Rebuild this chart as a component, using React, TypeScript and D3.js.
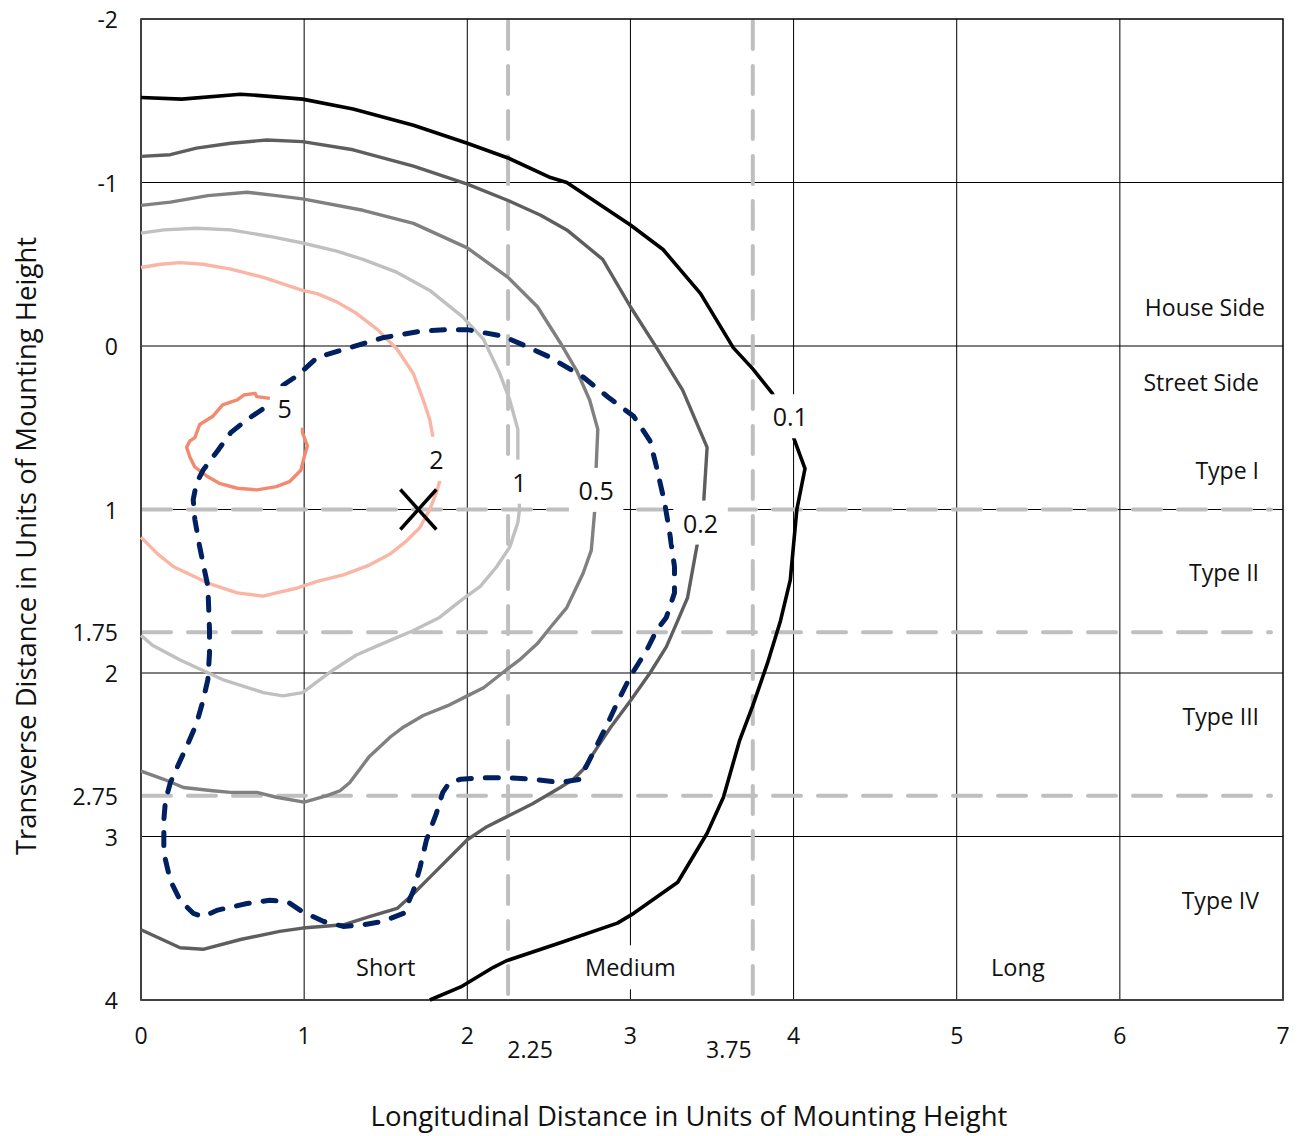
import React from 'react';
import * as d3 from 'd3';

// iso-footcandle contours, [longitudinal, transverse] in mounting heights
const contour01: [number, number][] = [
  [0, -1.52], [0.25, -1.51], [0.61, -1.54], [0.75, -1.53], [0.99, -1.51], [1.3, -1.45], [1.67, -1.35],
  [2.0, -1.24], [2.25, -1.15], [2.51, -1.03], [2.61, -1.0], [3.0, -0.74], [3.2, -0.59], [3.43, -0.32],
  [3.63, 0.01], [3.75, 0.14], [3.87, 0.29], [4.0, 0.56], [4.07, 0.75], [4.02, 1.0], [3.98, 1.43],
  [3.92, 1.68], [3.84, 1.94], [3.75, 2.2], [3.67, 2.41], [3.57, 2.76], [3.47, 2.98], [3.29, 3.28],
  [3.02, 3.47], [2.92, 3.53], [2.57, 3.65], [2.24, 3.76], [2.16, 3.8], [1.96, 3.92], [1.77, 4.0],
];
const contour02: [number, number][] = [
  [0, -1.16], [0.18, -1.17], [0.34, -1.21], [0.55, -1.24], [0.77, -1.26], [0.99, -1.25], [1.3, -1.2],
  [1.67, -1.1], [2.0, -0.99], [2.25, -0.89], [2.45, -0.8], [2.61, -0.71], [2.83, -0.53], [3.0, -0.24],
  [3.16, 0.01], [3.32, 0.27], [3.47, 0.62], [3.45, 0.94], [3.41, 1.21], [3.35, 1.54], [3.29, 1.68],
  [3.22, 1.84], [3.12, 2.0], [3.0, 2.17], [2.88, 2.33], [2.8, 2.45], [2.71, 2.59], [2.65, 2.65],
  [2.57, 2.7], [2.4, 2.8], [2.24, 2.88], [2.12, 2.94], [2.0, 3.02], [1.89, 3.13], [1.77, 3.25],
  [1.67, 3.35], [1.57, 3.44], [1.4, 3.49], [1.24, 3.54], [0.99, 3.56], [0.85, 3.58], [0.61, 3.63],
  [0.38, 3.69], [0.24, 3.68], [0, 3.57],
];
const contour05: [number, number][] = [
  [0, -0.86], [0.18, -0.88], [0.41, -0.92], [0.65, -0.94], [0.83, -0.92], [0.99, -0.9], [1.36, -0.83],
  [1.67, -0.75], [2.0, -0.6], [2.25, -0.42], [2.43, -0.24], [2.57, -0.02], [2.67, 0.15], [2.75, 0.33],
  [2.8, 0.51], [2.79, 0.74], [2.78, 1.02], [2.76, 1.25], [2.71, 1.39], [2.61, 1.6], [2.51, 1.72],
  [2.43, 1.82], [2.32, 1.92], [2.24, 1.98], [2.1, 2.09], [2.0, 2.14], [1.88, 2.2], [1.73, 2.26],
  [1.61, 2.33], [1.53, 2.39], [1.4, 2.51], [1.28, 2.67], [1.22, 2.72], [1.14, 2.75], [1.0, 2.79],
  [0.83, 2.76], [0.71, 2.73], [0.55, 2.73], [0.44, 2.72], [0.26, 2.7], [0.14, 2.65], [0, 2.6],
];
const contour1: [number, number][] = [
  [0, -0.69], [0.14, -0.71], [0.34, -0.72], [0.55, -0.71], [0.79, -0.67], [0.99, -0.63], [1.2, -0.58],
  [1.36, -0.53], [1.57, -0.45], [1.77, -0.34], [1.97, -0.18], [2.1, -0.04], [2.2, 0.17], [2.26, 0.33],
  [2.31, 0.51], [2.31, 0.69], [2.32, 1.0], [2.31, 1.08], [2.26, 1.23], [2.18, 1.35], [2.08, 1.47],
  [1.97, 1.55], [1.83, 1.66], [1.67, 1.74], [1.48, 1.82], [1.32, 1.89], [1.18, 1.98], [0.99, 2.12],
  [0.87, 2.14], [0.75, 2.12], [0.5, 2.04], [0.24, 1.92], [0.07, 1.83], [0, 1.77],
];
const contour2: [number, number][] = [
  [0, -0.48], [0.12, -0.5], [0.24, -0.51], [0.38, -0.5], [0.55, -0.47], [0.75, -0.42], [0.99, -0.34],
  [1.08, -0.32], [1.2, -0.27], [1.32, -0.2], [1.45, -0.1], [1.57, 0.02], [1.67, 0.17], [1.73, 0.33],
  [1.77, 0.45], [1.79, 0.56], [1.83, 0.83], [1.81, 0.9], [1.77, 1.0], [1.71, 1.11], [1.63, 1.19],
  [1.53, 1.27], [1.4, 1.34], [1.24, 1.4], [1.08, 1.44], [0.96, 1.48], [0.83, 1.51], [0.75, 1.53],
  [0.59, 1.51], [0.41, 1.45], [0.2, 1.35], [0.1, 1.27], [0, 1.17],
];
const contour5: [number, number][] = [
  [0.79, 0.32], [0.71, 0.31], [0.7, 0.29], [0.63, 0.3], [0.59, 0.33], [0.5, 0.36], [0.44, 0.43],
  [0.36, 0.48], [0.33, 0.56], [0.3, 0.58], [0.28, 0.62], [0.3, 0.68], [0.33, 0.74], [0.41, 0.8],
  [0.48, 0.84], [0.59, 0.87], [0.71, 0.88], [0.83, 0.86], [0.91, 0.83], [0.98, 0.76], [1.0, 0.68],
  [1.02, 0.61], [0.99, 0.53], [0.99, 0.5],
];
// measured outline (blue dashed)
const measured: [number, number][] = [
  [0.87, 0.24], [0.96, 0.18], [1.08, 0.07], [1.28, 0.01], [1.48, -0.05], [1.71, -0.09], [1.88, -0.1],
  [2.0, -0.1], [2.22, -0.06], [2.38, 0.01], [2.51, 0.07], [2.71, 0.19], [2.86, 0.31], [3.02, 0.43],
  [3.12, 0.58], [3.16, 0.74], [3.21, 0.96], [3.24, 1.14], [3.27, 1.35], [3.27, 1.51], [3.22, 1.66],
  [3.16, 1.74], [3.1, 1.86], [3.0, 2.02], [2.92, 2.18], [2.86, 2.31], [2.8, 2.43], [2.75, 2.53],
  [2.69, 2.65], [2.57, 2.67], [2.4, 2.65], [2.24, 2.64], [2.1, 2.64], [1.96, 2.65], [1.89, 2.67],
  [1.85, 2.73], [1.81, 2.86], [1.75, 3.02], [1.71, 3.19], [1.67, 3.33], [1.61, 3.47], [1.48, 3.52],
  [1.36, 3.54], [1.24, 3.55], [1.12, 3.52], [0.99, 3.46], [0.9, 3.4], [0.79, 3.39], [0.65, 3.41],
  [0.47, 3.45], [0.38, 3.49], [0.32, 3.47], [0.24, 3.39], [0.18, 3.27], [0.14, 3.1], [0.14, 2.9],
  [0.15, 2.78], [0.18, 2.67], [0.22, 2.58], [0.28, 2.45], [0.34, 2.31], [0.38, 2.17], [0.41, 2.04],
  [0.42, 1.88], [0.42, 1.74], [0.41, 1.47], [0.36, 1.23], [0.33, 1.06], [0.32, 0.94], [0.34, 0.84],
  [0.38, 0.76], [0.47, 0.64], [0.55, 0.53], [0.65, 0.45], [0.77, 0.37], [0.83, 0.33],
];
const marker: [number, number] = [1.7, 1];

const xTicks = [0, 1, 2, 3, 4, 5, 6, 7];
const xExtraTicks = [2.25, 3.75];
const yTicks = [-2, -1, 0, 1, 1.75, 2, 2.75, 3, 4];
const xGrid = [1, 2, 3, 4, 5, 6];
const yGrid = [-1, 0, 1, 2, 3];
const xDashed = [2.25, 3.75];
const yDashed = [1, 1.75, 2.75];

const contourLabels = ['0.1', '0.2', '0.5', '1', '2', '5'];
const contourLabelPos: [number, number][] = [
  [3.98, 0.43], [3.43, 1.08], [2.79, 0.88], [2.32, 0.83], [1.81, 0.69], [0.88, 0.38],
];
const typeLabels = ['House Side', 'Street Side', 'Type I', 'Type II', 'Type III', 'Type IV'];
const typeLabelY = [-0.24, 0.22, 0.76, 1.38, 2.26, 3.39];
const rangeLabels = ['Short', 'Medium', 'Long'];
const rangeLabelX = [1.5, 3, 5.375];
const rangeLabelY = 3.8;

const W = 1298;
const H = 1136;
const FONT = '"Open Sans", "Noto Sans", sans-serif';

export default function App() {
  const x = d3.scaleLinear().domain([0, 7]).range([141, 1283]);
  const y = d3.scaleLinear().domain([-2, 4]).range([19, 1000]);
  const line = d3.line<[number, number]>().x(d => x(d[0])).y(d => y(d[1]));

  const series = [
    { data: contour01, color: '#000000', w: 3.6 },
    { data: contour02, color: '#5e5e5e', w: 3.4 },
    { data: contour05, color: '#808080', w: 3.4 },
    { data: contour1, color: '#c0c0c0', w: 3.4 },
    { data: contour2, color: '#f9b6a4', w: 3.4 },
    { data: contour5, color: '#f28a70', w: 3.4 },
  ];

  const labelBox = (txt: string, cx: number, cy: number, key: string, size: number, charW: number) => {
    const bw = txt.length * charW + 14;
    return (
      <g key={key}>
        <rect x={cx - bw / 2} y={cy - 22} width={bw} height={44} fill="#fff" />
        <text x={cx} y={cy} textAnchor="middle" dominantBaseline="central" fontSize={size} fill="#111">{txt}</text>
      </g>
    );
  };

  return (
    <div style={{ position: 'absolute', left: 0, top: 0 }}>
      <svg width={W} height={H} style={{ display: 'block', fontFamily: FONT }}>
        <rect width={W} height={H} fill="#fff" />

        {/* grid */}
        {xGrid.map(v => (
          <line key={'gx' + v} x1={x(v)} x2={x(v)} y1={y(-2)} y2={y(4)} stroke="#000" strokeWidth={1} />
        ))}
        {yGrid.map(v => (
          <line key={'gy' + v} x1={x(0)} x2={x(7)} y1={y(v)} y2={y(v)} stroke="#000" strokeWidth={1} />
        ))}

        {/* classification boundaries */}
        {xDashed.map(v => (
          <line key={'dx' + v} x1={x(v)} x2={x(v)} y1={y(-2) + 2} y2={y(4)} stroke="#bfbfbf"
            strokeWidth={4} strokeDasharray="28,17" strokeLinecap="round" />
        ))}
        {yDashed.map(v => (
          <line key={'dy' + v} x1={x(0) + 2} x2={x(7) - 12} y1={y(v)} y2={y(v)} stroke="#bfbfbf"
            strokeWidth={4} strokeDasharray="28,17" strokeLinecap="round" />
        ))}

        {/* frame */}
        <rect x={x(0)} y={y(-2)} width={x(7) - x(0)} height={y(4) - y(-2)} fill="none" stroke="#000" strokeWidth={1.5} />
        <line x1={x(0)} x2={x(0)} y1={y(-2)} y2={y(4)} stroke="#404040" strokeWidth={2} />
        <line x1={x(0)} x2={x(7)} y1={y(4)} y2={y(4)} stroke="#404040" strokeWidth={2} />

        {/* contours */}
        {series.map((s, i) => (
          <path key={'c' + i} d={line(s.data) ?? ''} fill="none" stroke={s.color} strokeWidth={s.w}
            strokeLinejoin="round" />
        ))}
        <path d={line(measured) ?? ''} fill="none" stroke="#002060" strokeWidth={5}
          strokeDasharray="13,14" strokeLinecap="round" strokeLinejoin="round" />

        {/* luminaire position */}
        <g stroke="#000" strokeWidth={3.5}>
          <line x1={x(marker[0]) - 18} x2={x(marker[0]) + 18} y1={y(marker[1]) - 20} y2={y(marker[1]) + 20} />
          <line x1={x(marker[0]) - 18} x2={x(marker[0]) + 18} y1={y(marker[1]) + 20} y2={y(marker[1]) - 20} />
        </g>

        {/* contour labels */}
        {contourLabels.map((t, i) =>
          labelBox(t, x(contourLabelPos[i][0]), y(contourLabelPos[i][1]), 'cl' + i, 25, 13.5))}

        {/* range labels */}
        {rangeLabels.map((t, i) => labelBox(t, x(rangeLabelX[i]), y(rangeLabelY), 'rl' + i, 23.5, 14.5))}

        {/* type labels */}
        {typeLabels.map((t, i) => (
          <text key={'tl' + i} x={x(7) - (i === 0 ? 18 : 24)} y={y(typeLabelY[i])} textAnchor="end"
            dominantBaseline="central" fontSize={23} fill="#111">{t}</text>
        ))}

        {/* axes tick labels */}
        {yTicks.map(v => (
          <text key={'yt' + v} x={118} y={y(v)} textAnchor="end" dominantBaseline="central" fontSize={23} fill="#111">{v}</text>
        ))}
        {xTicks.map(v => (
          <text key={'xt' + v} x={x(v)} y={1035} textAnchor="middle" dominantBaseline="central" fontSize={23} fill="#111">{v}</text>
        ))}
        {xExtraTicks.map((v, i) => (
          <text key={'xe' + v} x={x(v) + (i === 0 ? 22 : -24)} y={1049} textAnchor="middle" dominantBaseline="central"
            fontSize={23} fill="#111">{v}</text>
        ))}

        {/* axis titles */}
        <text x={689} y={1115} textAnchor="middle" dominantBaseline="central" fontSize={27.5} fill="#111">
          Longitudinal Distance in Units of Mounting Height
        </text>
        <text transform="translate(25,546) rotate(-90)" textAnchor="middle" dominantBaseline="central" fontSize={27.5} fill="#111">
          Transverse Distance in Units of Mounting Height
        </text>
      </svg>
    </div>
  );
}
